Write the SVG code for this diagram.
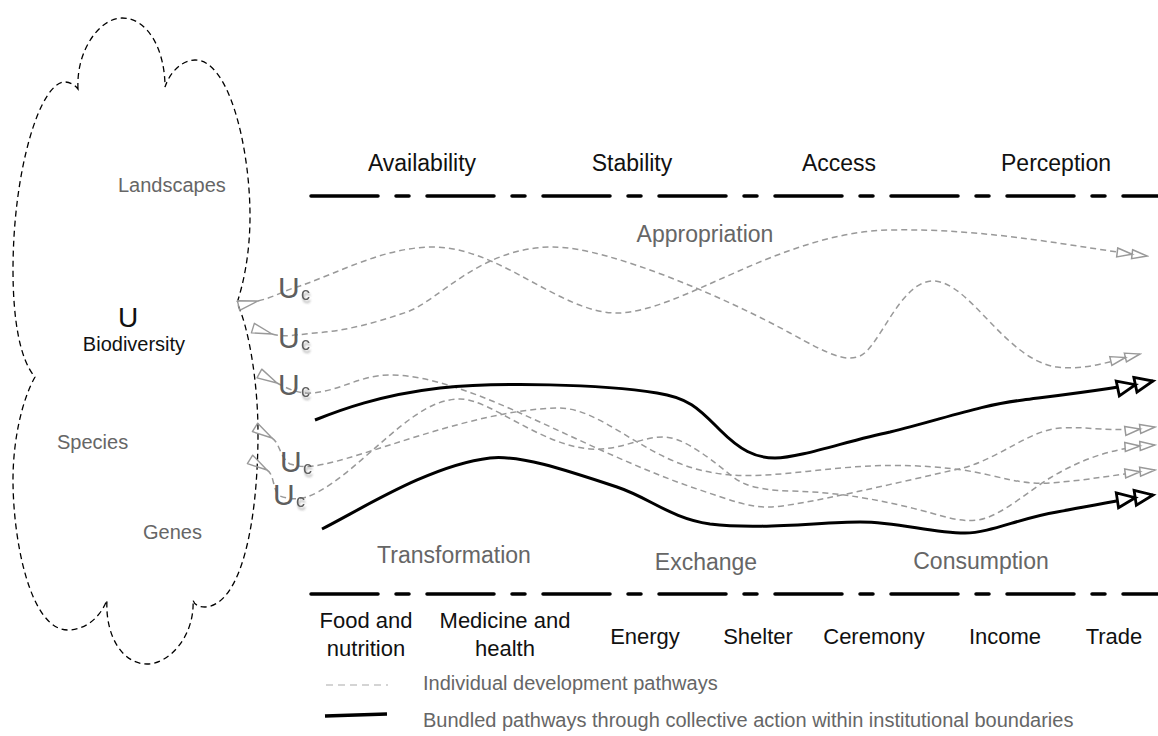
<svg xmlns="http://www.w3.org/2000/svg" width="1158" height="736" viewBox="0 0 1158 736">
  <defs>
    <style>
      text { font-family: "Liberation Sans", Arial, Helvetica, sans-serif; }
      .lbl { font-size: 23px; fill: #111; text-anchor: middle; }
      .phase { font-size: 23px; fill: #666; text-anchor: middle; }
      .use { font-size: 22px; fill: #111; text-anchor: middle; }
      .level { font-size: 20px; fill: #666; }
      .legend { font-size: 20px; fill: #666; }
      .indiv { fill: none; stroke: #999; stroke-width: 1.5; stroke-dasharray: 6 4; marker-start: url(#tail); marker-end: url(#gEnd); }
      .bundle { fill: none; stroke: #000; stroke-width: 3; marker-end: url(#bEnd); }
      .bound { fill: none; stroke: #000; stroke-width: 3.5; stroke-linecap: round; stroke-dasharray: 67 18 13 18; }
      .cloud { fill: none; stroke: #000; stroke-width: 1.3; stroke-dasharray: 6 4; }
      .u { font-size: 30px; fill: #5e5e5e; }
      .c { font-size: 18px; fill: #5e5e5e; }
    </style>
    <!-- open dart at the start of each individual pathway -->
    <marker id="tail" markerUnits="userSpaceOnUse" viewBox="-24 -8 26 16" refX="0" refY="0" markerWidth="26" markerHeight="16" orient="auto">
      <path d="M-20,-5 L0,0 L-20,5 Z" fill="none" stroke="#999" stroke-width="1.4" stroke-linejoin="round"/>
    </marker>
    <!-- double open heads -->
    <marker id="gEnd" markerUnits="userSpaceOnUse" viewBox="-34 -7 36 14" refX="0" refY="0" markerWidth="36" markerHeight="14" orient="auto">
      <path d="M-30,-4.5 L-15,0 L-30,4.5 Z M-15,-4.5 L0,0 L-15,4.5 Z" fill="#fff" stroke="#999" stroke-width="1.5"/>
    </marker>
    <marker id="bEnd" markerUnits="userSpaceOnUse" viewBox="-40 -10 44 20" refX="0" refY="0" markerWidth="44" markerHeight="20" orient="auto">
      <path d="M-36,-7.5 L-18,0 L-36,7.5 Z M-18,-7.5 L0,0 L-18,7.5 Z" fill="#fff" stroke="#000" stroke-width="2.8"/>
    </marker>
    <filter id="haze" x="-50%" y="-50%" width="200%" height="200%">
      <feOffset in="SourceGraphic" dx="0.5" dy="3" result="o"/>
      <feGaussianBlur in="o" stdDeviation="1.3" result="b"/>
      <feComponentTransfer in="b" result="f"><feFuncA type="linear" slope="0.5"/></feComponentTransfer>
      <feMerge><feMergeNode in="f"/><feMergeNode in="SourceGraphic"/></feMerge>
    </filter>
  </defs>

  <rect width="1158" height="736" fill="#fff"/>

  <!-- biodiversity cloud -->
  <g id="biodiversity">
    <path class="cloud" d="M78,89 C76,50 100,18 122,18 C148,18 165,50 165,87
      C170,72 182,60 195,60 C230,60 250,150 250,216 C250,255 243,285 237,303
      C248,325 258,380 258,433 C258,520 242,605 205,607 C198,607 194,604 193,600
      C195,635 170,664 147,664 C122,664 105,635 107,600
      C100,618 85,630 68,630 C30,630 13,540 13,480 C13,440 22,400 35,377
      C20,360 13,320 13,270 C13,170 40,82 65,82 C70,82 75,85 78,89 Z"/>
    <text class="level" x="118" y="192">Landscapes</text>
    <text x="128" y="327" font-size="28" fill="#111" text-anchor="middle">U</text>
    <text x="134" y="351" font-size="20" fill="#111" text-anchor="middle">Biodiversity</text>
    <text class="level" x="57" y="449">Species</text>
    <text class="level" x="143" y="539">Genes</text>
  </g>

  <!-- institutional boundaries -->
  <g id="boundaries">
    <path class="bound" d="M311,196 H1158"/>
    <path class="bound" d="M311,594 H1158"/>
  </g>

  <!-- pathways -->
  <g id="connectors">
    <path class="indiv" d="M258,301 C275,297 285,290 300,286 C340,272 385,247 433,247 C500,247 560,313 617,313 C680,313 780,232 890,230 C990,228 1080,248 1147,256"/>
    <path class="indiv" d="M272,334 C285,338 300,334 315,333 C345,331 375,323 407,312 C440,300 480,247 553,247 C610,247 730,300 790,333 C830,355 845,362 860,356 C880,347 900,281 933,281 C970,281 1005,360 1057,367 C1085,371 1115,360 1140,354"/>
    <path class="indiv" d="M277,383 C290,390 300,394 312,393 C340,391 360,375 390,375 C430,375 480,395 520,413 C580,440 640,470 700,490 C730,500 750,508 770,507 C800,506 900,482 963,468 C1000,458 1030,430 1060,428 C1090,426 1110,433 1155,427"/>
    <path class="indiv" d="M272,438 C280,443 280,458 290,464 C300,467 306,467 314,466 C360,460 470,410 557,408 C600,407 640,455 700,470 C740,480 780,474 820,470 C860,466 900,462 963,470 C1000,476 1020,485 1050,483 C1090,480 1120,474 1155,470"/>
    <path class="indiv" d="M267,470 C275,475 272,490 280,496 C290,500 300,499 307,497 C340,485 380,440 413,417 C430,405 445,399 460,399 C490,399 540,445 590,449 C620,451 640,437 663,437 C680,437 700,450 733,477 C745,486 760,490 790,491 C840,492 880,500 920,510 C950,518 960,522 978,520 C1000,517 1030,490 1050,478 C1080,460 1110,448 1155,445"/>
    <path class="bundle" d="M315,420 C340,410 380,395 440,388 C500,382 600,384 657,393 C690,398 700,410 720,430 C740,450 755,458 775,458 C800,458 850,440 890,432 C940,420 980,405 1023,400 C1070,394 1120,388 1153,381"/>
    <path class="bundle" d="M322,529 C360,510 430,465 490,458 C520,455 560,468 617,487 C650,498 670,518 710,524 C760,530 820,522 860,522 C900,522 930,533 965,533 C990,533 1020,518 1057,512 C1085,507 1120,500 1153,495"/>
  </g>

  <!-- capital stocks along the pathways -->
  <g id="capitals">
    <text class="u" x="278" y="298">U</text><text class="c" x="301" y="300" filter="url(#haze)">c</text>
    <text class="u" x="278" y="348">U</text><text class="c" x="301" y="350" filter="url(#haze)">c</text>
    <text class="u" x="278" y="395">U</text><text class="c" x="301" y="397" filter="url(#haze)">c</text>
    <text class="u" x="280" y="472">U</text><text class="c" x="303" y="474" filter="url(#haze)">c</text>
    <text class="u" x="273" y="505">U</text><text class="c" x="296" y="507" filter="url(#haze)">c</text>
  </g>

  <!-- food security dimensions -->
  <g id="dimensions">
    <text class="lbl" x="422" y="171">Availability</text>
    <text class="lbl" x="632" y="171">Stability</text>
    <text class="lbl" x="839" y="171">Access</text>
    <text class="lbl" x="1056" y="171">Perception</text>
  </g>

  <!-- value chain stages -->
  <g id="stages">
    <text class="phase" x="705" y="242">Appropriation</text>
    <text class="phase" x="454" y="563">Transformation</text>
    <text class="phase" x="706" y="570">Exchange</text>
    <text class="phase" x="981" y="569">Consumption</text>
  </g>

  <!-- uses -->
  <g id="uses">
    <text class="use" x="366" y="628">Food and</text>
    <text class="use" x="366" y="656">nutrition</text>
    <text class="use" x="505" y="628">Medicine and</text>
    <text class="use" x="505" y="656">health</text>
    <text class="use" x="645" y="644">Energy</text>
    <text class="use" x="758" y="644">Shelter</text>
    <text class="use" x="874" y="644">Ceremony</text>
    <text class="use" x="1005" y="644">Income</text>
    <text class="use" x="1114" y="644">Trade</text>
  </g>

  <!-- legend -->
  <g id="legend">
    <path d="M326,685 H388" fill="none" stroke="#aaa" stroke-width="1.2" stroke-dasharray="7 5"/>
    <text class="legend" x="423" y="690">Individual development pathways</text>
    <path d="M325,716 L387,714" fill="none" stroke="#000" stroke-width="3.5"/>
    <text class="legend" x="423" y="727">Bundled pathways through collective action within institutional boundaries</text>
  </g>
</svg>
